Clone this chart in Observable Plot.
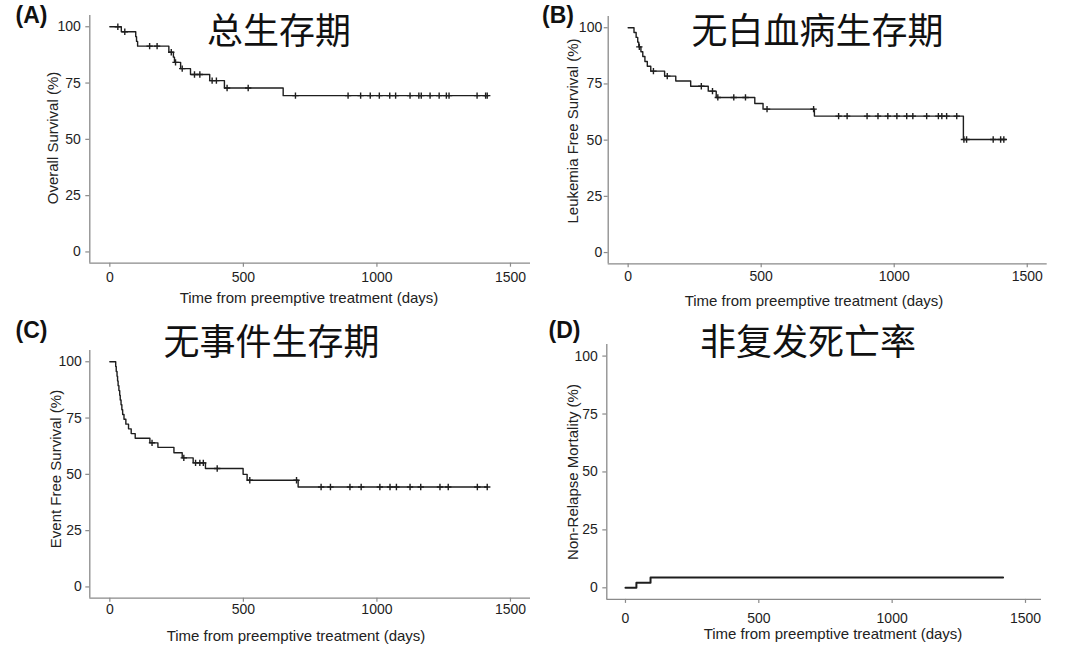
<!DOCTYPE html>
<html>
<head>
<meta charset="utf-8">
<script src="https://cdn.jsdelivr.net/npm/d3@7"></script>
<script src="https://cdn.jsdelivr.net/npm/@observablehq/plot@0.6"></script>
<style>
  html, body { margin: 0; padding: 0; background: #fff; }
  #wrap { position: relative; width: 1080px; height: 658px; overflow: hidden; background: #fff; }
  #wrap svg { position: absolute; }
  .lbl { position: absolute; white-space: nowrap; line-height: 1; transform: translate(-50%, -50%); color: #1a1a1a; }
  .title { font-family: "Noto Sans CJK SC", sans-serif; font-size: 36px; font-weight: 400; color: #111; }
  .letter { font-family: "Liberation Sans", Arial, sans-serif; font-size: 23px; font-weight: 700; color: #111; }
  .axt { font-family: "Liberation Sans", Arial, sans-serif; font-size: 15px; color: #222; }
  .yaxt { transform: translate(-50%, -50%) rotate(-90deg); }
</style>
</head>
<body>
<div id="wrap"></div>
<script>
// ---------- data ----------
const xTicks = [0, 500, 1000, 1500];
const yTicks = [0, 25, 50, 75, 100];
const xLabel = "Time from preemptive treatment (days)";
const titles = ["总生存期", "无白血病生存期", "无事件生存期", "非复发死亡率"];
const letters = ["(A)", "(B)", "(C)", "(D)"];
const yLabels = ["Overall Survival (%)", "Leukemia Free Survival (%)", "Event Free Survival (%)", "Non-Relapse Mortality (%)"];

// (A) Overall survival: step times (days) and levels (%)
const osTime = [0, 43, 97, 100, 104, 221, 238, 242, 265, 302, 374, 429, 649, 1413];
const osSurv = [100, 97.8, 95.6, 93.5, 91.4, 88.7, 86.5, 84.2, 81.4, 78.8, 76.1, 72.8, 69.4, 69.4];
const osCensor = [30, 56, 149, 177, 230, 246, 271, 317, 337, 383, 399, 439, 518, 695, 892, 939, 975, 1009, 1048, 1070, 1124, 1157, 1166, 1199, 1233, 1260, 1270, 1375, 1407, 1413];

// (B) Leukemia free survival
const lfsTime = [0, 22, 30, 36, 40, 48, 55, 63, 72, 85, 137, 179, 235, 301, 331, 476, 507, 700, 1260, 1420];
const lfsSurv = [100, 97.9, 95.7, 93.6, 91.5, 89.3, 87.2, 85.0, 82.9, 80.7, 78.5, 76.3, 74.0, 71.8, 69.0, 66.3, 63.8, 60.7, 50.3, 50.3];
const lfsCensor = [42, 95, 147, 275, 317, 337, 397, 441, 522, 697, 791, 823, 898, 939, 976, 1010, 1047, 1070, 1122, 1166, 1179, 1197, 1235, 1262, 1272, 1372, 1400, 1412];

// (C) Event free survival
const efsTime = [0, 22, 24, 27, 29, 31, 34, 37, 39, 42, 45, 48, 53, 60, 70, 80, 95, 150, 180, 240, 271, 312, 358, 499, 514, 705, 1413];
const efsSurv = [100, 97.9, 95.7, 93.6, 91.5, 89.4, 87.2, 85.1, 83.0, 80.9, 78.7, 76.6, 74.5, 72.3, 70.2, 68.1, 66.0, 64.0, 62.0, 59.6, 57.3, 55.1, 52.6, 50.0, 47.4, 44.4, 44.4];
const efsCensor = [158, 277, 321, 337, 350, 402, 524, 699, 791, 826, 899, 941, 1011, 1049, 1073, 1124, 1164, 1236, 1267, 1376, 1413];

// (D) Non-relapse mortality (cumulative incidence)
const nrmTime = [0, 41, 94, 1416];
const nrmRate = [0, 2.2, 4.4, 4.4];
const nrmCensor = [];

// ---------- layout (positions / styles) ----------
const layout = [
  {left: 0,   top: 0,   height: 310, mL: 89.3, mR: 10,   mT: 15, mB: 47.3, xDomain: [-75, 1575], yPad: 5, xPad: 5,  lw: 1.4,
   title: [279, 27.5], letter: [31.5, 15], xlab: [309, 296.5], ylab: [52, 138]},
  {left: 540, top: 0,   height: 310, mL: 67.7, mR: 33.3, mT: 16, mB: 46.7, xDomain: [-75, 1575], yPad: 2, xPad: 3,  lw: 1.4,
   title: [817.5, 27.5], letter: [558, 15], xlab: [814, 299.5], ylab: [572.3, 131]},
  {left: 0,   top: 310, height: 348, mL: 89.3, mR: 10,   mT: 40, mB: 60.3, xDomain: [-75, 1575], yPad: 4, xPad: 2,  lw: 1.4,
   title: [271.5, 339], letter: [31.5, 330], xlab: [296, 635], ylab: [55, 469]},
  {left: 540, top: 310, height: 348, mL: 66.3, mR: 39,   mT: 34, mB: 59.1, xDomain: [-70, 1560], yPad: 5, xPad: 10, lw: 2,
   title: [808, 339], letter: [564.5, 330], xlab: [833, 633], ylab: [571.7, 471.5]}
];
const yDomain = [-5, 105];

const series = [
  {time: osTime, val: osSurv, censor: osCensor},
  {time: lfsTime, val: lfsSurv, censor: lfsCensor},
  {time: efsTime, val: efsSurv, censor: efsCensor},
  {time: nrmTime, val: nrmRate, censor: nrmCensor}
];

const wrap = document.getElementById("wrap");
const axisGrey = "#8a8a8a";
const ink = "#1e1e1e";

function levelAt(s, t) {
  let v = s.val[0];
  for (let i = 0; i < s.time.length; i++) if (s.time[i] <= t) v = s.val[i];
  return v;
}

series.forEach((s, i) => {
  const L = layout[i];
  const line = s.time.map((t, k) => ({t, v: s.val[k]}));
  const cens = s.censor.map(t => ({t, v: levelAt(s, t)}));
  const chart = Plot.plot({
    width: 540,
    height: L.height,
    marginLeft: L.mL, marginRight: L.mR, marginTop: L.mT, marginBottom: L.mB,
    x: {domain: L.xDomain},
    y: {domain: yDomain},
    style: {fontFamily: "'Liberation Sans', Arial, sans-serif", fontSize: "14px", background: "transparent", overflow: "visible"},
    marks: [
      Plot.ruleX([L.xDomain[0]], {stroke: axisGrey, strokeWidth: 1.3}),
      Plot.ruleY([yDomain[0]], {stroke: axisGrey, strokeWidth: 1.3}),
      Plot.axisX({ticks: xTicks, tickFormat: "d", tickSize: 4, tickPadding: L.xPad, label: null, stroke: axisGrey, fill: ink, strokeWidth: 1.2, fontSize: 14}),
      Plot.axisY({ticks: yTicks, tickFormat: "d", tickSize: 4, tickPadding: L.yPad, label: null, stroke: axisGrey, fill: ink, strokeWidth: 1.2, fontSize: 14}),
      Plot.line(line, {x: "t", y: "v", curve: "step-after", stroke: ink, strokeWidth: L.lw}),
      Plot.dot(cens, {x: "t", y: "v", symbol: "plus", r: 2.2, stroke: ink, strokeWidth: 1.4})
    ]
  });
  chart.style.left = L.left + "px";
  chart.style.top = L.top + "px";
  wrap.appendChild(chart);

  const add = (cls, text, pos) => {
    const d = document.createElement("div");
    d.className = "lbl " + cls;
    d.textContent = text;
    d.style.left = pos[0] + "px";
    d.style.top = pos[1] + "px";
    wrap.appendChild(d);
  };
  add("title", titles[i], L.title);
  add("letter", letters[i], L.letter);
  add("axt", xLabel, L.xlab);
  add("axt yaxt", yLabels[i], L.ylab);
});
</script>
</body>
</html>
